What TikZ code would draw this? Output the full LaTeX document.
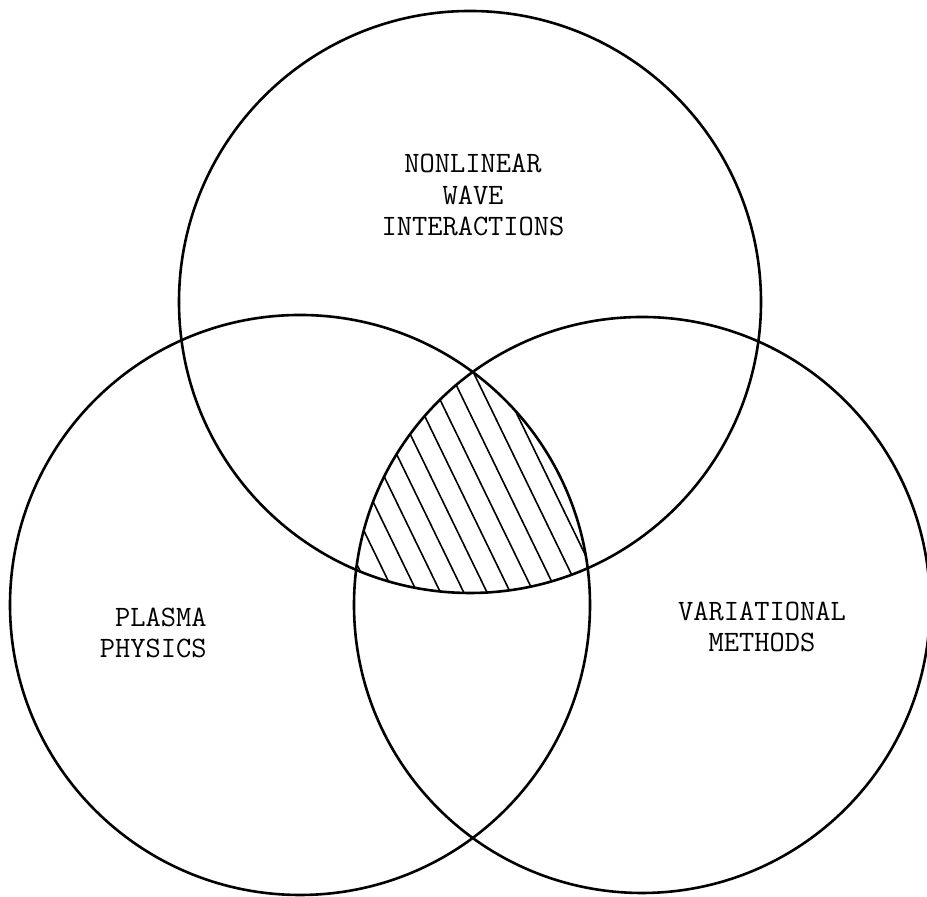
\documentclass[tikz,border=0pt]{standalone}
\usepackage{tikz}

\begin{document}
\begin{tikzpicture}[x=0.5pt,y=0.5pt,line width=1.3pt]
  \tikzset{label/.style={font=\fontsize{14.8}{15.8}\selectfont\ttfamily,inner sep=0pt},
    hatch/.style={line width=0.8pt}}
  \useasboundingbox (0,0) rectangle (927,897);
  % hatched part common to the three circles
  \begin{scope}
    \clip (470,595) circle (291);
    \clip (300,292) circle (290);
    \clip (642,292) circle (288);
    \foreach \k in {-9,...,9}
      \draw[hatch] ({463+23.3*\k-153},{450+315}) -- ({463+23.3*\k+153},{450-315});
  \end{scope}
  \draw (470,595) circle (291);
  \draw (300,292) circle (290);
  \draw (642,292) circle (288);
  \node[label,align=center] (waves) at (473,702) {NONLINEAR\\WAVE\\INTERACTIONS};
  \node[label,align=right,anchor=east] (plasma) at (208,264) {PLASMA\\PHYSICS};
  \node[label,align=center] (varmeth) at (762,270) {VARIATIONAL\\METHODS};
\end{tikzpicture}
\end{document}
